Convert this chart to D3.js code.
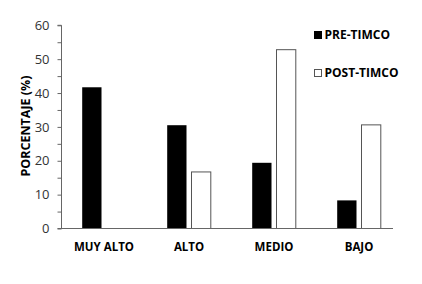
<!DOCTYPE html>
<html>
<head>
<meta charset="utf-8">
<script src="https://cdn.jsdelivr.net/npm/d3@7"></script>
<style>
  body { margin: 0; background: #fff; }
  text { font-family: "Open Sans", "Liberation Sans", sans-serif; }
</style>
</head>
<body>
<div id="chart"></div>
<script>
const categories = ['MUY ALTO', 'ALTO', 'MEDIO', 'BAJO'];
const series = ['PRE-TIMCO', 'POST-TIMCO'];
const preValues = [41.7, 30.5, 19.4, 8.3];
const postValues = [0, 16.7, 52.8, 30.6];
const yTicks = [0, 10, 20, 30, 40, 50, 60];

const width = 422;
const height = 284;

const svg = d3.select('#chart')
  .append('svg')
  .attr('width', width)
  .attr('height', height);

// plot area
const x0 = 61.5, yBottom = 228.5, yTop = 25.3;

const x = d3.scaleBand()
  .domain(categories)
  .range([x0, x0 + 340]);

const y = d3.scaleLinear()
  .domain([0, 60])
  .range([yBottom, yTop]);

const barW = 19.3, gap = 5;
const sub = d3.scaleOrdinal()
  .domain(series)
  .range([-(barW + gap / 2), gap / 2]);

const data = categories.map((c, i) => ({
  cat: c,
  vals: [
    { s: series[0], v: preValues[i] },
    { s: series[1], v: postValues[i] }
  ]
}));

const groups = svg.selectAll('g.grp')
  .data(data)
  .enter()
  .append('g')
  .attr('class', 'grp')
  .attr('transform', d => `translate(${x(d.cat) + x.bandwidth() / 2},0)`);

groups.selectAll('rect')
  .data(d => d.vals.filter(b => b.v > 0))
  .enter()
  .append('rect')
  .attr('x', d => sub(d.s))
  .attr('y', d => y(d.v))
  .attr('width', barW)
  .attr('height', d => y(0) - y(d.v))
  .attr('fill', d => d.s === series[0] ? '#000' : '#fff')
  .attr('stroke', d => d.s === series[0] ? 'none' : '#555')
  .attr('stroke-width', 1);

// y axis
const yAxis = d3.axisLeft(y)
  .tickValues(d3.range(0, 61, 5))
  .tickSize(4)
  .tickFormat(d => yTicks.includes(d) ? d : '');

const gy = svg.append('g')
  .attr('transform', `translate(${x0},0)`)
  .call(yAxis);
gy.select('.domain').attr('stroke', '#666').attr('d', `M-4,${yTop}H0V${yBottom}`);
gy.selectAll('.tick line').attr('stroke', '#666');
gy.selectAll('.tick text')
  .attr('x', -12)
  .attr('fill', '#333')
  .style('font-size', '13px');

// x axis line
svg.append('line')
  .attr('x1', x0 - 4).attr('x2', 393)
  .attr('y1', yBottom).attr('y2', yBottom)
  .attr('stroke', '#666');

svg.selectAll('text.xl')
  .data(categories)
  .enter()
  .append('text')
  .attr('class', 'xl')
  .attr('x', d => x(d) + x.bandwidth() / 2)
  .attr('y', 251)
  .attr('text-anchor', 'middle')
  .style('font-size', '11.5px')
  .style('font-weight', 'bold')
  .text(d => d);

svg.append('text')
  .attr('transform', 'translate(29.5,126) rotate(-90)')
  .attr('text-anchor', 'middle')
  .style('font-size', '12.5px')
  .style('font-weight', 'bold')
  .text('PORCENTAJE (%)');

// legend
const legend = svg.selectAll('g.leg')
  .data(series)
  .enter()
  .append('g')
  .attr('class', 'leg')
  .attr('transform', (d, i) => `translate(314,${31 + i * 38})`);

legend.append('rect')
  .attr('x', 0.5).attr('y', 0.5)
  .attr('width', 7).attr('height', 7)
  .attr('fill', (d, i) => i === 0 ? '#000' : '#fff')
  .attr('stroke', (d, i) => i === 0 ? '#000' : '#555');

legend.append('text')
  .attr('x', 10.5)
  .attr('y', 8)
  .style('font-size', '12px')
  .style('font-weight', 'bold')
  .text(d => d);
</script>
</body>
</html>
